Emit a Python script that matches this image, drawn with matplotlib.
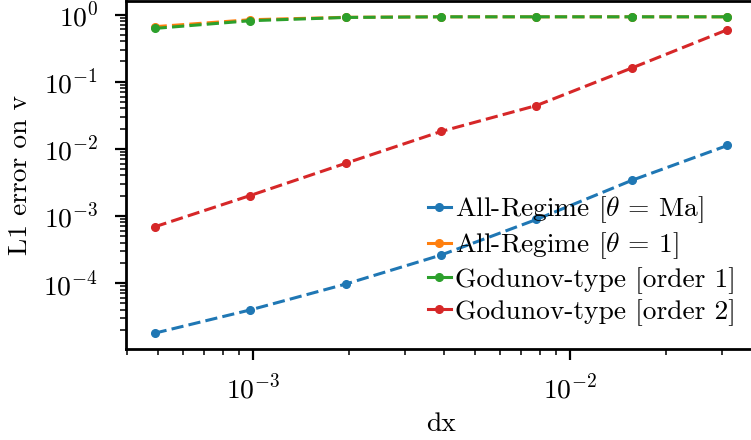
import matplotlib
matplotlib.use("Agg")
import matplotlib.pyplot as plt
from matplotlib.lines import Line2D

plt.rcParams.update({
    "font.family": "serif",
    "font.serif": ["cmr10"],
    "mathtext.fontset": "cm",
    "axes.formatter.use_mathtext": True,
    "axes.unicode_minus": False,
    "font.size": 19.8,
})

# grid spacing
dx = [1 / 2048, 1 / 1024, 1 / 512, 1 / 256, 1 / 128, 1 / 64, 1 / 32]

# L1 errors on v
err_ar_ma = [1.79e-5, 3.97e-5, 9.64e-5, 2.61e-4, 8.85e-4, 3.39e-3, 1.12e-2]
err_ar_one = [0.659, 0.837, 0.91, 0.925, 0.925, 0.925, 0.925]
err_god1 = [0.621, 0.809, 0.905, 0.925, 0.925, 0.925, 0.925]
err_god2 = [6.87e-4, 2.01e-3, 6.07e-3, 1.81e-2, 4.41e-2, 0.160, 0.594]

labels = [
    r"All-Regime [$\theta$ = Ma]",
    r"All-Regime [$\theta$ = 1]",
    "Godunov-type [order 1]",
    "Godunov-type [order 2]",
]
colors = ["#1f77b4", "#ff7f0e", "#2ca02c", "#d62728"]
series = [err_ar_ma, err_ar_one, err_god1, err_god2]

W, H = 751, 440
fig = plt.figure(figsize=(W / 100, H / 100), dpi=100)
ax = fig.add_axes([126 / W, (H - 349) / H, (756 - 126) / W, 348 / H])

lw = 2.2
for ys, c in zip(series, colors):
    ax.plot(dx, ys, linestyle=(0, (4.0, 1.7)), color=c, lw=lw,
            marker=".", markersize=11)

ax.set_xscale("log")
ax.set_yscale("log")
ax.set_xlabel("dx", labelpad=6)
ax.set_ylabel("L1 error on v", labelpad=8)

for s in ax.spines.values():
    s.set_linewidth(2.0)
ax.tick_params(which="major", length=8, width=1.6)
ax.tick_params(which="minor", length=4.3, width=1.1)
ax.tick_params(axis="y", which="both", pad=12)
ax.tick_params(axis="x", which="both", pad=10)

handles = [Line2D([], [], color=c, lw=lw, marker=".", markersize=11) for c in colors]
ax.legend(handles, labels, loc="lower right", frameon=False,
          bbox_to_anchor=(1 - 5 / 630, 8 / 348),
          handlelength=0.83, handletextpad=0.15, labelspacing=0.2,
          borderaxespad=0.25, borderpad=0.3)

fig.savefig("out.png", dpi=100)
